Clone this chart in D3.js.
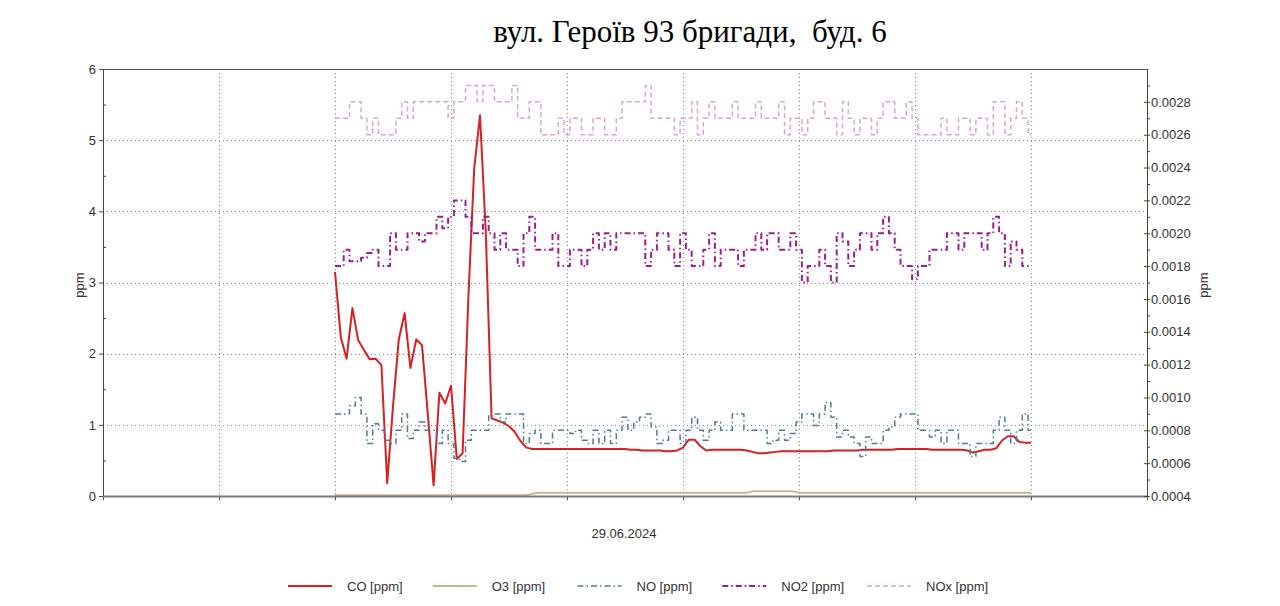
<!DOCTYPE html>
<html lang="uk">
  <head>
    <meta charset="UTF-8" />
    <title>вул. Героїв 93 бригади, буд. 6</title>
    <style>
      body {
        margin: 0;
        background: #fff;
      }
      text {
        font-family: "Liberation Sans", Arial, sans-serif;
      }
    </style>
  </head>

  <body>
    <div class="container"></div>

    <script src="https://d3js.org/d3.v7.min.js"></script>
    <script>
      // data: one sample every 1/20 of a grid step, index 0..120
      const co = [3.15, 2.23, 1.93, 2.64, 2.19, 2.05, 1.92, 1.93, 1.84, 0.18,
        1.26, 2.2, 2.57, 1.8, 2.2, 2.12, 1.15, 0.15, 1.45, 1.3,
        1.55, 0.52, 0.6, 2.8, 4.6, 5.35, 3.7, 1.09, 1.06, 1.03,
        0.98, 0.9, 0.77, 0.68, 0.66, 0.66, 0.66, 0.66, 0.66, 0.66,
        0.66, 0.66, 0.66, 0.66, 0.66, 0.66, 0.66, 0.66, 0.66, 0.66,
        0.66, 0.65, 0.65, 0.64, 0.64, 0.64, 0.64, 0.63, 0.63, 0.64,
        0.68, 0.79, 0.79, 0.7, 0.64, 0.65, 0.65, 0.65, 0.65, 0.65,
        0.65, 0.64, 0.62, 0.6, 0.6, 0.61, 0.62, 0.63, 0.63, 0.63,
        0.63, 0.63, 0.63, 0.63, 0.63, 0.63, 0.64, 0.64, 0.64, 0.64,
        0.64, 0.65, 0.65, 0.65, 0.65, 0.65, 0.65, 0.66, 0.66, 0.66,
        0.66, 0.66, 0.66, 0.65, 0.65, 0.65, 0.65, 0.65, 0.65, 0.64,
        0.61, 0.63, 0.65, 0.65, 0.67, 0.78, 0.84, 0.84, 0.76, 0.75,
        0.75];

      const o3 = [0.01, 0.01, 0.01, 0.01, 0.01, 0.01, 0.01, 0.01, 0.01, 0.01,
        0.01, 0.01, 0.01, 0.01, 0.01, 0.01, 0.01, 0.01, 0.01, 0.01,
        0.01, 0.01, 0.01, 0.01, 0.01, 0.01, 0.01, 0.01, 0.01, 0.01,
        0.01, 0.01, 0.01, 0.01, 0.03, 0.045, 0.045, 0.045, 0.045, 0.045,
        0.045, 0.045, 0.045, 0.045, 0.045, 0.045, 0.045, 0.045, 0.045, 0.045,
        0.045, 0.045, 0.045, 0.045, 0.045, 0.045, 0.045, 0.045, 0.045, 0.045,
        0.045, 0.045, 0.045, 0.045, 0.045, 0.045, 0.045, 0.045, 0.045, 0.045,
        0.045, 0.045, 0.065, 0.065, 0.065, 0.065, 0.065, 0.065, 0.065, 0.065,
        0.045, 0.045, 0.045, 0.045, 0.045, 0.045, 0.045, 0.045, 0.045, 0.045,
        0.045, 0.045, 0.045, 0.045, 0.045, 0.045, 0.045, 0.045, 0.045, 0.045,
        0.045, 0.045, 0.045, 0.045, 0.045, 0.045, 0.045, 0.045, 0.045, 0.045,
        0.045, 0.045, 0.045, 0.045, 0.045, 0.045, 0.045, 0.045, 0.045, 0.045,
        0.045];

      const no = [0.0009, 0.0009, 0.0009, 0.00095, 0.001, 0.0009, 0.00072, 0.00084, 0.0008, 0.00074,
        0.00072, 0.0008, 0.0009, 0.00075, 0.0008, 0.00085, 0.0008, 0.0008, 0.00072, 0.0008,
        0.00072, 0.00063, 0.00061, 0.00074, 0.0008, 0.0008, 0.0008, 0.0009, 0.0009, 0.00085,
        0.0009, 0.0009, 0.0009, 0.00072, 0.00078, 0.0008, 0.00072, 0.00072, 0.0008, 0.0008,
        0.0008, 0.00078, 0.0008, 0.00074, 0.00072, 0.0008, 0.00072, 0.0008, 0.00072, 0.0008,
        0.00088, 0.0008, 0.00085, 0.00088, 0.0009, 0.00082, 0.00072, 0.00074, 0.0008, 0.0008,
        0.00072, 0.0008, 0.00088, 0.0008, 0.00074, 0.0008, 0.00085, 0.0008, 0.0008, 0.0009,
        0.0009, 0.0008, 0.0008, 0.0008, 0.0008, 0.00072, 0.00074, 0.0008, 0.00074, 0.00078,
        0.00085, 0.0009, 0.0009, 0.00083, 0.0009, 0.00097, 0.00088, 0.00076, 0.0008, 0.00076,
        0.00072, 0.00064, 0.00076, 0.00072, 0.00072, 0.0008, 0.00082, 0.00088, 0.0009, 0.0009,
        0.0009, 0.0008, 0.0008, 0.00076, 0.0008, 0.00072, 0.0008, 0.0008, 0.00072, 0.00072,
        0.00064, 0.00072, 0.00072, 0.00072, 0.0008, 0.00088, 0.0008, 0.00072, 0.0008, 0.0009,
        0.0008];

      const no2 = [0.0018, 0.0018, 0.0019, 0.00183, 0.00183, 0.00185, 0.00188, 0.0019, 0.0018, 0.0018,
        0.002, 0.0019, 0.0019, 0.002, 0.002, 0.00195, 0.002, 0.002, 0.0021, 0.00203,
        0.0021, 0.0022, 0.0022, 0.0021, 0.002, 0.002, 0.0021, 0.002, 0.0019, 0.002,
        0.0019, 0.0019, 0.0018, 0.002, 0.0021, 0.0019, 0.0019, 0.0019, 0.002, 0.0018,
        0.0018, 0.0019, 0.0019, 0.0018, 0.0019, 0.002, 0.0019, 0.002, 0.0019, 0.002,
        0.002, 0.002, 0.002, 0.002, 0.0018, 0.0019, 0.002, 0.002, 0.0019, 0.0018,
        0.002, 0.0019, 0.0018, 0.0018, 0.0019, 0.002, 0.0018, 0.0019, 0.0019, 0.0019,
        0.0018, 0.0019, 0.0019, 0.002, 0.0019, 0.002, 0.002, 0.0019, 0.0019, 0.002,
        0.0019, 0.0017, 0.0018, 0.0018, 0.0019, 0.0018, 0.0017, 0.002, 0.00195, 0.0018,
        0.0019, 0.002, 0.002, 0.0019, 0.002, 0.0021, 0.002, 0.0019, 0.0018, 0.0018,
        0.00172, 0.0018, 0.0018, 0.0019, 0.0019, 0.0019, 0.002, 0.002, 0.0019, 0.002,
        0.002, 0.002, 0.0019, 0.002, 0.0021, 0.002, 0.0018, 0.00195, 0.0019, 0.0018,
        0.0018];

      const nox = [0.0027, 0.0027, 0.0027, 0.0028, 0.0028, 0.0027, 0.0026, 0.0027, 0.0026, 0.0026,
        0.0026, 0.0027, 0.0028, 0.0027, 0.0028, 0.0028, 0.0028, 0.0028, 0.0028, 0.0028,
        0.0027, 0.0028, 0.0028, 0.0029, 0.0029, 0.0028, 0.0029, 0.0029, 0.0028, 0.0028,
        0.0028, 0.0029, 0.0027, 0.0027, 0.0028, 0.0028, 0.0026, 0.0026, 0.0026, 0.0027,
        0.0026, 0.0027, 0.0027, 0.0026, 0.0026, 0.0027, 0.0027, 0.0026, 0.0026, 0.0027,
        0.0028, 0.0028, 0.0028, 0.0028, 0.0029, 0.0027, 0.0027, 0.0027, 0.0027, 0.0026,
        0.0027, 0.0027, 0.0028, 0.0026, 0.0027, 0.0028, 0.0027, 0.0027, 0.0027, 0.0028,
        0.0027, 0.0027, 0.0027, 0.0028, 0.0027, 0.0027, 0.0027, 0.0028, 0.0026, 0.0027,
        0.0027, 0.0026, 0.0027, 0.0028, 0.0028, 0.0027, 0.0027, 0.0026, 0.0028, 0.0027,
        0.0026, 0.0027, 0.0027, 0.0026, 0.0027, 0.0028, 0.0028, 0.0027, 0.0027, 0.0028,
        0.0027, 0.0026, 0.0026, 0.0026, 0.0026, 0.0027, 0.0026, 0.0026, 0.0027, 0.0027,
        0.0026, 0.0027, 0.0027, 0.0026, 0.0028, 0.0028, 0.0026, 0.0027, 0.0028, 0.0027,
        0.0026];

      // ticks / labels
      const gridX = [-40, -20, 0, 20, 40, 60, 80, 100, 120, 140];
      const leftTicks = [0, 1, 2, 3, 4, 5, 6];
      const leftMinor = [0.5, 1.5, 2.5, 3.5, 4.5, 5.5];
      const rightTicks = [0.0004, 0.0006, 0.0008, 0.001, 0.0012, 0.0014, 0.0016,
        0.0018, 0.002, 0.0022, 0.0024, 0.0026, 0.0028];
      const rightMinor = [0.0005, 0.0007, 0.0009, 0.0011, 0.0013, 0.0015, 0.0017,
        0.0019, 0.0021, 0.0023, 0.0025, 0.0027, 0.0029];
      const dateLabel = "29.06.2024";
      const title = "вул. Героїв 93 бригади,  буд. 6";

      const series = [
        { name: "CO [ppm]", values: co, axis: "left", color: "#d42222", width: 2, dash: null, step: false },
        { name: "O3 [ppm]", values: o3, axis: "left", color: "#c9b693", width: 2, dash: null, step: false },
        { name: "NO [ppm]", values: no, axis: "right", color: "#4d7d93", width: 1.5, dash: "6,3,1.5,3", step: true },
        { name: "NO2 [ppm]", values: no2, axis: "right", color: "#9c1c8c", width: 2, dash: "6,3,1.5,3", step: true },
        { name: "NOx [ppm]", values: nox, axis: "right", color: "#d8a6d6", width: 1.5, dash: "5,3", step: true },
      ];

      const W = 1280, H = 606;
      const L = 103, R = 1147, T = 69, B = 496;

      const svg = d3.select(".container").append("svg")
        .attr("width", W).attr("height", H);

      const x = d3.scaleLinear().domain([-40, 140]).range([L, R]);
      const yL = d3.scaleLinear().domain([0, 6]).range([B, T]);
      const yR = d3.scaleLinear().domain([0.0004, 0.003]).range([B, T]);

      // title
      svg.append("text")
        .attr("x", 690).attr("y", 42)
        .attr("text-anchor", "middle")
        .style("font-family", '"Liberation Serif", "Times New Roman", serif')
        .style("font-size", "31px")
        .style("white-space", "pre")
        .attr("fill", "#000")
        .text(title);

      // dotted grid
      const grid = svg.append("g")
        .attr("stroke", "#8a8a8a").attr("stroke-width", 1)
        .attr("stroke-dasharray", "1,3");
      grid.selectAll("line.v").data(gridX.slice(1, -1)).join("line")
        .attr("class", "v")
        .attr("x1", (d) => Math.round(x(d)) + 0.5).attr("x2", (d) => Math.round(x(d)) + 0.5)
        .attr("y1", T).attr("y2", B);
      grid.selectAll("line.h").data([1, 2, 3, 4, 5]).join("line")
        .attr("class", "h")
        .attr("x1", L).attr("x2", R)
        .attr("y1", (d) => Math.round(yL(d)) + 0.5).attr("y2", (d) => Math.round(yL(d)) + 0.5);

      // frame: top line
      svg.append("line")
        .attr("x1", L).attr("x2", R).attr("y1", T + 0.5).attr("y2", T + 0.5)
        .attr("stroke", "#555");

      // series
      series.forEach((s) => {
        const y = s.axis === "left" ? yL : yR;
        const line = d3.line()
          .x((d, i) => x(i))
          .y((d) => y(d))
          .curve(s.step ? d3.curveStep : d3.curveLinear);
        svg.append("path")
          .datum(s.values)
          .attr("fill", "none")
          .attr("stroke", s.color)
          .attr("stroke-width", s.width)
          .attr("stroke-linejoin", "round")
          .attr("stroke-dasharray", s.dash)
          .attr("d", line);
      });

      function styleAxis(g) {
        g.attr("font-size", 13)
          .attr("font-family", '"Liberation Sans", Arial, sans-serif');
        g.selectAll(".tick line").attr("stroke", "#444");
        g.selectAll(".tick text").attr("fill", "#333");
        g.select(".domain").remove();
      }

      // bottom axis
      svg.append("g")
        .attr("transform", `translate(0,${B})`)
        .call(d3.axisBottom(x).tickValues(gridX).tickSize(4).tickFormat(""))
        .call(styleAxis);
      svg.append("line")
        .attr("x1", L).attr("x2", R).attr("y1", B + 0.5).attr("y2", B + 0.5)
        .attr("stroke", "#7a7a7a").attr("stroke-width", 2);

      // left axis
      svg.append("g")
        .attr("transform", `translate(${L},0)`)
        .call(d3.axisLeft(yL).tickValues(leftTicks).tickSize(4).tickPadding(3)
          .tickFormat(d3.format("d")))
        .call(styleAxis);
      svg.append("g")
        .attr("transform", `translate(${L},0)`)
        .call(d3.axisRight(yL).tickValues(leftMinor).tickSize(3).tickFormat(""))
        .call(styleAxis);
      svg.append("line")
        .attr("x1", L + 0.5).attr("x2", L + 0.5).attr("y1", T).attr("y2", B)
        .attr("stroke", "#444");

      // right axis
      svg.append("g")
        .attr("transform", `translate(${R},0)`)
        .call(d3.axisRight(yR).tickValues(rightTicks).tickSize(3).tickPadding(1)
          .tickFormat(d3.format(".4f")))
        .call(styleAxis);
      svg.append("g")
        .attr("transform", `translate(${R},0)`)
        .call(d3.axisLeft(yR).tickValues(rightTicks).tickSize(3).tickFormat(""))
        .call(styleAxis);
      svg.append("g")
        .attr("transform", `translate(${R},0)`)
        .call(d3.axisRight(yR).tickValues(rightMinor).tickSize(3).tickFormat(""))
        .call(styleAxis);
      svg.append("line")
        .attr("x1", R + 0.5).attr("x2", R + 0.5).attr("y1", T).attr("y2", B)
        .attr("stroke", "#444");

      // axis titles
      svg.append("text")
        .attr("transform", "translate(84,285) rotate(-90)")
        .attr("text-anchor", "middle")
        .style("font-size", "13px").attr("fill", "#333")
        .text("ppm");
      svg.append("text")
        .attr("transform", "translate(1208,285) rotate(-90)")
        .attr("text-anchor", "middle")
        .style("font-size", "13px").attr("fill", "#333")
        .text("ppm");
      svg.append("text")
        .attr("x", 624).attr("y", 538)
        .attr("text-anchor", "middle")
        .style("font-size", "13px").attr("fill", "#333")
        .text(dateLabel);

      // legend
      const leg = svg.append("g").attr("transform", "translate(288,586)");
      const item = leg.selectAll("g").data(series).join("g")
        .attr("transform", (d, i) => `translate(${i * 144.75},0)`);
      item.append("line")
        .attr("x1", 0).attr("x2", 44).attr("y1", 0).attr("y2", 0)
        .attr("stroke", (d) => d.color)
        .attr("stroke-width", (d) => d.width)
        .attr("stroke-dasharray", (d) => d.dash);
      item.append("text")
        .attr("x", 59).attr("y", 5)
        .style("font-size", "13px").attr("fill", "#333")
        .text((d) => d.name);
    </script>
  </body>
</html>
